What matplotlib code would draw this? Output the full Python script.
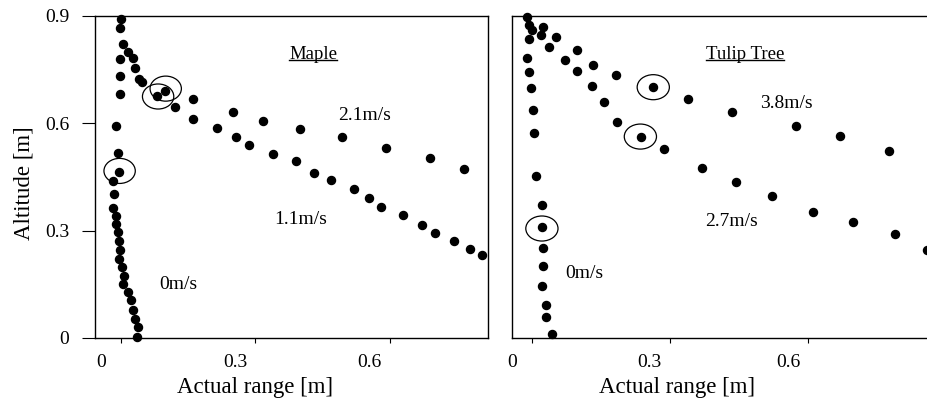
import matplotlib
matplotlib.use("Agg")
import matplotlib.pyplot as plt
from matplotlib.patches import Ellipse
from matplotlib.lines import Line2D
from matplotlib.transforms import ScaledTranslation

plt.rcParams['font.family'] = ['Liberation Serif', 'DejaVu Serif']

# ---- Maple ----
maple_0_x = [-0.001, -0.002, -0.002, -0.002, -0.002, -0.011, -0.007, -0.004, -0.017, -0.016,
             -0.017, -0.011, -0.010, -0.007, -0.004, -0.002, -0.004, 0.002, 0.007, 0.005,
             0.015, 0.022, 0.028, 0.031, 0.037, 0.035]
maple_0_y = [0.892, 0.867, 0.781, 0.731, 0.682, 0.593, 0.516, 0.465, 0.440, 0.403,
             0.362, 0.340, 0.319, 0.295, 0.270, 0.246, 0.222, 0.198, 0.172, 0.151,
             0.129, 0.105, 0.077, 0.054, 0.032, 0.004]
maple_11_x = [0.004, 0.026, 0.032, 0.046, 0.081, 0.121, 0.160, 0.214, 0.257, 0.285, 0.339,
              0.390, 0.431, 0.470, 0.520, 0.554, 0.581, 0.631, 0.673, 0.701, 0.744, 0.779, 0.806]
maple_11_y = [0.822, 0.782, 0.755, 0.715, 0.675, 0.647, 0.612, 0.588, 0.563, 0.540, 0.513,
              0.494, 0.461, 0.443, 0.417, 0.391, 0.366, 0.344, 0.315, 0.294, 0.270, 0.250, 0.233]
maple_21_x = [0.016, 0.041, 0.099, 0.160, 0.250, 0.317, 0.401, 0.494, 0.592, 0.690, 0.766]
maple_21_y = [0.798, 0.725, 0.689, 0.668, 0.633, 0.606, 0.585, 0.563, 0.532, 0.503, 0.473]
maple_mark_x = [-0.003, 0.083, 0.100]
maple_mark_y = [0.467, 0.675, 0.697]

# ---- Tulip Tree ----
tulip_0_x = [-0.011, -0.007, -0.005, -0.010, -0.007, -0.002, 0.002, 0.005, 0.009, 0.022,
             0.022, 0.025, 0.025, 0.022, 0.031, 0.030, 0.043]
tulip_0_y = [0.897, 0.876, 0.837, 0.784, 0.744, 0.699, 0.636, 0.573, 0.452, 0.373,
             0.309, 0.252, 0.200, 0.144, 0.092, 0.059, 0.010]
tulip_38_x = [0.000, 0.024, 0.053, 0.098, 0.133, 0.183, 0.264, 0.340, 0.435, 0.575, 0.670, 0.776]
tulip_38_y = [0.862, 0.868, 0.840, 0.805, 0.763, 0.735, 0.701, 0.669, 0.633, 0.592, 0.564, 0.524]
tulip_27_x = [0.020, 0.038, 0.073, 0.099, 0.131, 0.157, 0.185, 0.238, 0.288, 0.370,
              0.443, 0.522, 0.611, 0.699, 0.790, 0.859]
tulip_27_y = [0.848, 0.814, 0.778, 0.745, 0.705, 0.661, 0.604, 0.561, 0.527, 0.475,
              0.436, 0.396, 0.352, 0.323, 0.292, 0.245]
tulip_mark_x = [0.264, 0.236, 0.022]
tulip_mark_y = [0.701, 0.563, 0.306]

xticks = [0, 0.3, 0.6]
xticklabels = ['0', '0.3', '0.6']
yticks = [0, 0.3, 0.6, 0.9]
yticklabels = ['0', '0.3', '0.6', '0.9']

fig = plt.figure(figsize=(9.27, 4.04), dpi=100)
axL = fig.add_axes([95/927, 66/404, 393/927, 322/404])
axR = fig.add_axes([512/927, 66/404, 433/927, 322/404])

def dots(ax, x, y):
    ax.plot(x, y, 'o', color='black', ms=5.8, ls='none', clip_on=False)

def rings(ax, x, y):
    for cx, cy in zip(x, y):
        ax.add_patch(Ellipse((cx, cy), 0.07, 0.07, fill=False, ec='black', lw=0.9))

dots(axL, maple_0_x, maple_0_y)
dots(axL, maple_11_x, maple_11_y)
dots(axL, maple_21_x, maple_21_y)
rings(axL, maple_mark_x, maple_mark_y)

dots(axR, tulip_0_x, tulip_0_y)
dots(axR, tulip_38_x, tulip_38_y)
dots(axR, tulip_27_x, tulip_27_y)
rings(axR, tulip_mark_x, tulip_mark_y)

axL.set_xlim(-0.058, 0.82)
axR.set_xlim(-0.043, 0.898)
shift = ScaledTranslation(-0.2, 0, fig.dpi_scale_trans)
for ax in (axL, axR):
    ax.set_ylim(0, 0.9)
    ax.set_xticks(xticks)
    ax.set_xticklabels(xticklabels)
    ax.tick_params(axis='x', direction='out', length=3.5, width=0.8, pad=8, labelsize=14)
    for t in ax.xaxis.get_major_ticks():
        t.label1.set_transform(t.label1.get_transform() + shift)
    ax.set_xlabel('Actual range [m]', fontsize=16.5)
    for s in ax.spines.values():
        s.set_linewidth(1.0)

axL.set_yticks(yticks)
axL.set_yticklabels(yticklabels)
axL.tick_params(axis='y', direction='out', length=9.5, width=0.8, pad=9, labelsize=14)
axL.set_ylabel('Altitude [m]', fontsize=16.5)
axL.yaxis.set_label_coords(-0.155, 0.48)
axL.xaxis.set_label_coords(0.407, -0.12)
axR.set_yticks([])
axR.xaxis.set_label_coords(0.382, -0.12)

tL = axL.text(0.430, 0.792, 'Maple', fontsize=13.5, ha='center', va='center')
axL.text(0.544, 0.622, '2.1m/s', fontsize=14, ha='center', va='center')
axL.text(0.402, 0.332, '1.1m/s', fontsize=14, ha='center', va='center')
axL.text(0.128, 0.149, '0m/s', fontsize=14, ha='center', va='center')

tR = axR.text(0.464, 0.792, 'Tulip Tree', fontsize=13.5, ha='center', va='center')
axR.text(0.553, 0.656, '3.8m/s', fontsize=14, ha='center', va='center')
axR.text(0.434, 0.327, '2.7m/s', fontsize=14, ha='center', va='center')
axR.text(0.114, 0.181, '0m/s', fontsize=14, ha='center', va='center')

# underline the two species titles
fig.canvas.draw()
for t in (tL, tR):
    bb = t.get_window_extent()
    yline = bb.y0 + 3
    fig.add_artist(Line2D([bb.x0, bb.x1], [yline, yline], transform=None,
                          color='black', lw=1.0))

fig.savefig('out.png', dpi=100)
